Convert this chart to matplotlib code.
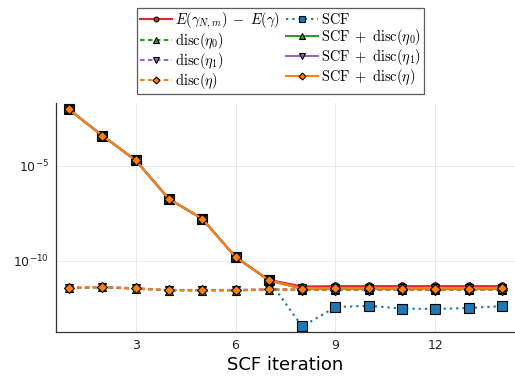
import numpy as np
import matplotlib
matplotlib.use("Agg")
import matplotlib.pyplot as plt
from matplotlib.ticker import FixedLocator, LogFormatterSciNotation, NullLocator

# ---------------------------------------------------------------------------
# Data (log10 of the error)
# ---------------------------------------------------------------------------
iters = np.arange(1, 15)

log_true = [-2.05, -3.42, -4.72, -6.75, -7.79, -9.80, -11.00,
            -11.35, -11.33, -11.33, -11.33, -11.33, -11.33, -11.33]
log_disc0 = [-11.44, -11.40, -11.47, -11.56, -11.56, -11.56, -11.52,
             -11.53, -11.53, -11.53, -11.53, -11.53, -11.53, -11.53]
log_disc1 = [-11.41, -11.37, -11.44, -11.53, -11.53, -11.53, -11.49,
             -11.50, -11.50, -11.50, -11.50, -11.50, -11.50, -11.50]
log_disc = [-11.42, -11.38, -11.45, -11.54, -11.54, -11.54, -11.50,
            -11.51, -11.51, -11.51, -11.51, -11.51, -11.51, -11.51]
log_scf = [-2.05, -3.42, -4.72, -6.75, -7.79, -9.80, -11.02,
           -13.45, -12.43, -12.36, -12.51, -12.53, -12.48, -12.38]
log_scf_disc0 = [-2.05, -3.42, -4.72, -6.75, -7.79, -9.80, -11.03,
                 -11.48, -11.47, -11.47, -11.48, -11.48, -11.48, -11.47]
log_scf_disc1 = [-2.05, -3.42, -4.72, -6.75, -7.79, -9.80, -11.02,
                 -11.45, -11.44, -11.44, -11.45, -11.45, -11.45, -11.44]
log_scf_disc = [-2.05, -3.42, -4.72, -6.75, -7.79, -9.80, -11.02,
                -11.46, -11.45, -11.45, -11.46, -11.46, -11.46, -11.45]

labels = [r"$E(\gamma_{N,m})\;-\;E(\gamma)$",
          r"$\mathrm{disc}(\eta_0)$",
          r"$\mathrm{disc}(\eta_1)$",
          r"$\mathrm{disc}(\eta)$",
          r"$\mathrm{SCF}$",
          r"$\mathrm{SCF}\;+\;\mathrm{disc}(\eta_0)$",
          r"$\mathrm{SCF}\;+\;\mathrm{disc}(\eta_1)$",
          r"$\mathrm{SCF}\;+\;\mathrm{disc}(\eta)$"]

RED, GREEN, PURPLE, ORANGE, BLUE = "#e0282a", "#2ca02c", "#9467bd", "#ff7f0e", "#1f77b4"
DASH = (0, (2.2, 1.6))
DOT = (0, (1.1, 1.9))

series = [
    (log_true, RED, "-", "o", 5.3),
    (log_disc0, GREEN, DASH, "^", 6.3),
    (log_disc1, PURPLE, DASH, "v", 6.3),
    (log_disc, ORANGE, DASH, "D", 5.4),
    (log_scf, BLUE, DOT, "s", 6.8),
    (log_scf_disc0, GREEN, "-", "^", 6.3),
    (log_scf_disc1, PURPLE, "-", "v", 6.3),
    (log_scf_disc, ORANGE, "-", "D", 5.4),
]

# ---------------------------------------------------------------------------
# Plot
# ---------------------------------------------------------------------------
fig = plt.figure(figsize=(5.15, 3.76), dpi=100)
ax = fig.add_axes([56 / 515, 44 / 376, 459 / 515, 229 / 376])

handles = []
for (vals, color, ls, mk, ms), lab in zip(series, labels):
    (h,) = ax.plot(iters, 10.0 ** np.array(vals), color=color, linestyle=ls,
                   linewidth=1.5, marker=mk, markersize=ms,
                   markerfacecolor=color, markeredgecolor="black",
                   markeredgewidth=0.8, label=lab)
    handles.append(h)

ax.set_yscale("log")
ax.set_xlim(0.61, 14.39)
ax.set_ylim(10 ** -13.74, 10 ** -1.71)

ax.xaxis.set_major_locator(FixedLocator([3, 6, 9, 12]))
ax.yaxis.set_major_locator(FixedLocator([1e-5, 1e-10]))
ax.yaxis.set_major_formatter(LogFormatterSciNotation())
ax.yaxis.set_minor_locator(NullLocator())
ax.tick_params(axis="both", labelsize=9, length=0, pad=5, colors="#222")
ax.grid(True, color="#e6e6e6", linewidth=0.6)
ax.set_axisbelow(True)

for side in ("top", "right"):
    ax.spines[side].set_visible(False)
for side in ("left", "bottom"):
    ax.spines[side].set_color("#333")
    ax.spines[side].set_linewidth(0.9)

ax.set_xlabel("SCF iteration", fontsize=13, labelpad=3)

leg = fig.legend(handles=handles, ncol=2, loc="upper left",
                 bbox_to_anchor=(137 / 515, 1 - 8 / 376),
                 fontsize=10.4, frameon=True, fancybox=False,
                 edgecolor="#333", handlelength=2.2, handletextpad=0.25,
                 columnspacing=0.4, labelspacing=0.0, borderpad=0.2,
                 borderaxespad=0, markerscale=0.65)
leg.get_frame().set_linewidth(0.9)
for t in leg.get_texts():
    t.set_math_fontfamily("cm")

fig.savefig("out.png", dpi=100, facecolor="white")
